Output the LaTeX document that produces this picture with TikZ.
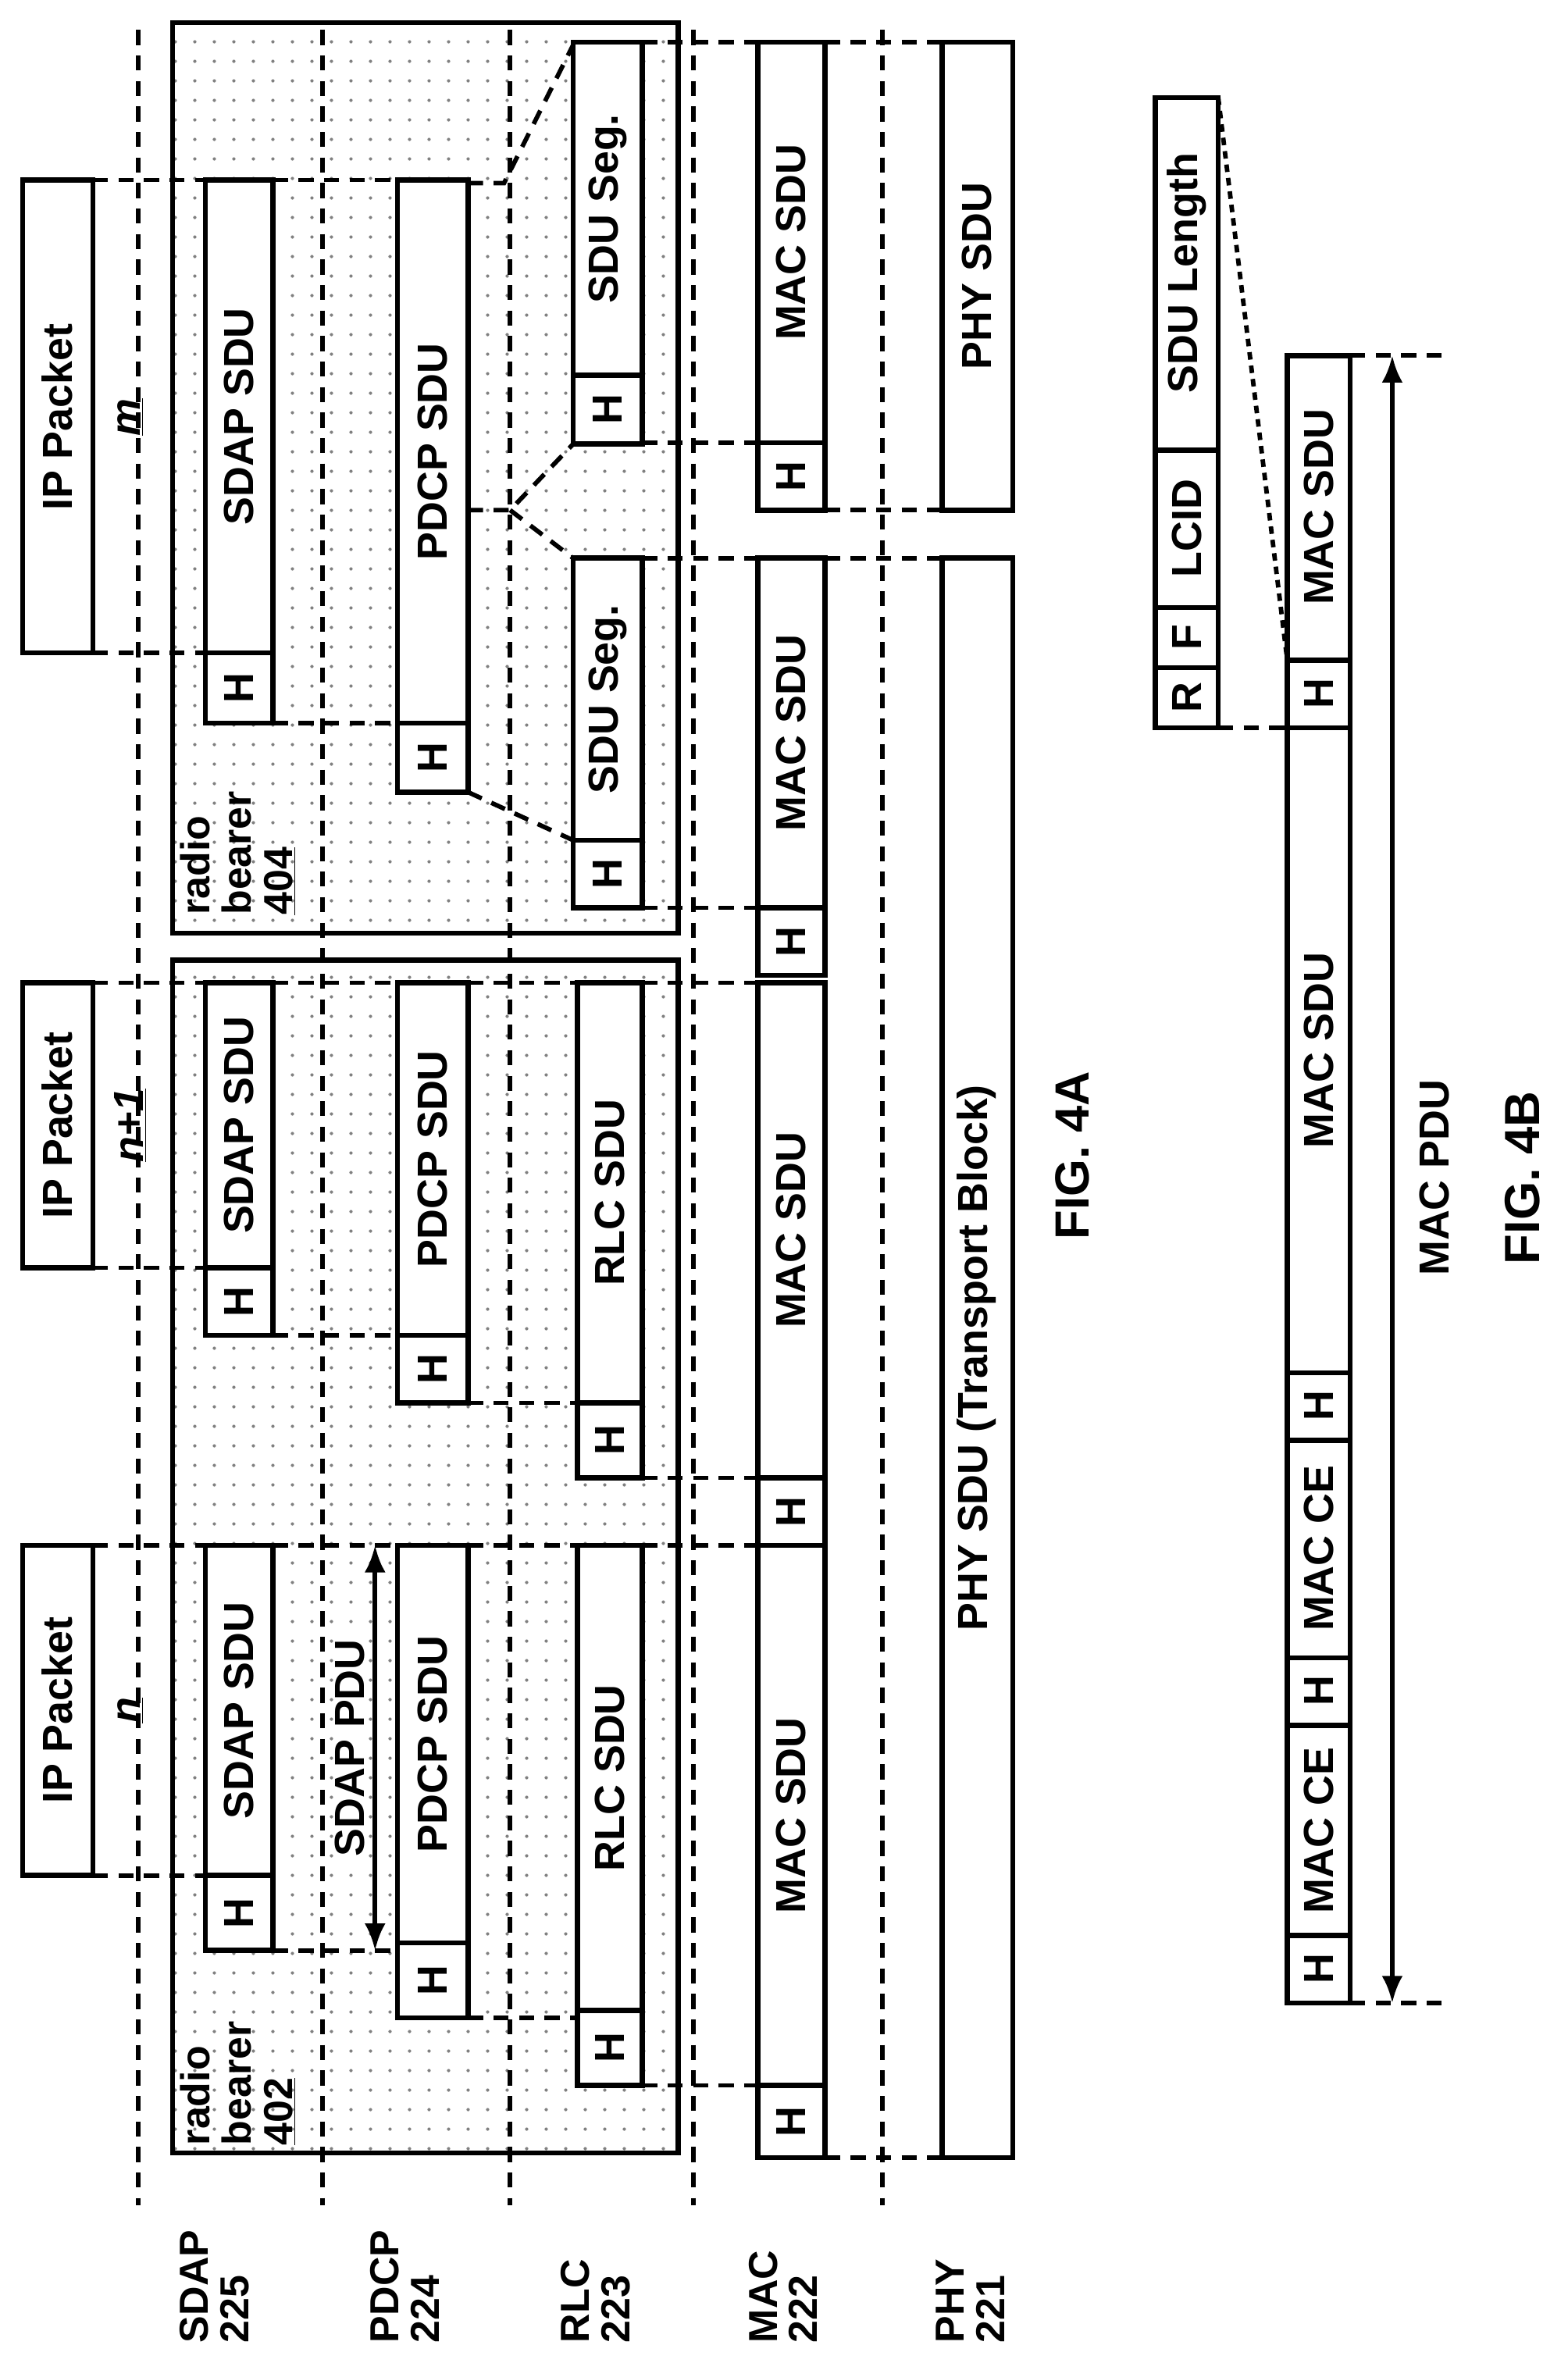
\documentclass[tikz,border=0pt]{standalone}
\usepackage{fontspec}
\setmainfont{Liberation Sans}
\usetikzlibrary{patterns.meta,arrows.meta}

% one box with its header part
\newcommand{\sdubox}[6]{%
  \draw[box,fill=white] (#1,#3) rectangle (#2,#5);
  \draw[box] (#1,#4) -- (#2,#4);
  \node[lbl] at ({(#1+#2)/2},{(#3+#4)/2}) {#6};
  \node[lbl] at ({(#1+#2)/2},{(#4+#5)/2}) {H};}

\begin{document}
\begin{tikzpicture}[x=1pt, y=-1pt,
    box/.style={line width=3.4pt},
    guide/.style={line width=3pt, dash pattern=on 10pt off 7pt},
    lbl/.style={rotate=90, font=\fontsize{28}{32}\selectfont\bfseries},
    lay/.style={rotate=90, align=left, font=\fontsize{27}{27}\selectfont\bfseries},
    dotted area/.style={pattern={Dots[distance=13pt, radius=1.1pt]}, pattern color=gray}]
    \useasboundingbox (0,0) rectangle (1045,1575);

    % radio bearers
    \draw[box, dotted area] (115,640) rectangle (452,1435);
    \draw[box, dotted area] (115,15) rectangle (452,622);

    % layer borders
    \foreach \lx in {92,215,340,462,588}
        \draw[guide] (\lx,20) -- (\lx,1470);

    % layer names
    \node[lay, anchor=west] (sdap) at (143,1565) {SDAP\\225};
    \node[lay, anchor=west] (pdcp) at (270,1565) {PDCP\\224};
    \node[lay, anchor=west] (rlc)  at (397,1565) {RLC\\223};
    \node[lay, anchor=west] (mac)  at (522,1565) {MAC\\222};
    \node[lay, anchor=west] (phy)  at (647,1565) {PHY\\221};

    % IP packets
    \draw[box,fill=white] (15,1030) rectangle (62,1250);
    \node[lbl] (ipn) at (38,1140) {IP Packet};
    \node[lbl] at (87,1140) {\underline{\itshape n}};
    \draw[box,fill=white] (15,655) rectangle (62,845);
    \node[lbl] (ipn1) at (38,750) {IP Packet};
    \node[lbl] at (87,750) {\underline{\itshape n+1}};
    \draw[box,fill=white] (15,120) rectangle (62,435);
    \node[lbl] (ipm) at (38,278) {IP Packet};
    \node[lbl] at (87,278) {\underline{\itshape m}};

    % guide lines between layers
    \foreach \xa/\xb/\yy in {62/137/1250, 62/137/1030, 182/265/1030, 312/385/1030,
        428/505/1030, 182/265/1300, 312/385/1345, 428/505/1390, 550/628/1438,
        62/137/845, 62/137/655, 182/265/655, 312/385/655, 428/505/655,
        182/265/890, 312/385/935, 428/505/985,
        62/137/435, 62/137/120, 182/265/120, 182/265/482,
        428/505/605, 428/505/372, 428/505/295, 428/505/28,
        550/628/372, 550/628/340, 550/628/28}
        \draw[guide] (\xa,\yy) -- (\xb,\yy);
    % segmentation of packet m
    \draw[guide] (312,122) -- (336,122) -- (382,30);
    \draw[guide] (312,340) -- (340,340) -- (382,296);
    \draw[guide] (340,340) -- (382,372);
    \draw[guide] (312,528) -- (382,560);

    % SDAP
    \sdubox{137}{182}{1030}{1250}{1300}{SDAP SDU}
    \sdubox{137}{182}{655}{845}{890}{SDAP SDU}
    \sdubox{137}{182}{120}{435}{482}{SDAP SDU}
    % PDCP
    \sdubox{265}{312}{1030}{1295}{1345}{PDCP SDU}
    \sdubox{265}{312}{655}{890}{935}{PDCP SDU}
    \sdubox{265}{312}{120}{482}{528}{PDCP SDU}
    % RLC
    \sdubox{385}{428}{1030}{1340}{1390}{RLC SDU}
    \sdubox{385}{428}{655}{935}{985}{RLC SDU}
    \sdubox{382}{428}{372}{560}{605}{SDU Seg.}
    \sdubox{382}{428}{28}{250}{296}{SDU Seg.}
    % MAC
    \sdubox{505}{550}{1030}{1390}{1438}{MAC SDU}
    \sdubox{505}{550}{655}{985}{1030}{MAC SDU}
    \sdubox{505}{550}{372}{605}{650}{MAC SDU}
    \sdubox{505}{550}{28}{295}{340}{MAC SDU}
    % PHY
    \draw[box,fill=white] (628,372) rectangle (675,1438);
    \node[lbl] (tb) at (651,905) {PHY SDU (Transport Block)};
    \draw[box,fill=white] (628,28) rectangle (675,340);
    \node[lbl] (physdu) at (651,184) {PHY SDU};

    % radio bearer labels
    \node[lay, anchor=north west, inner sep=0pt, font=\fontsize{27}{27.5}\selectfont\bfseries] (rb402) at (120,1430) {radio\\bearer\\\underline{402}};
    \node[lay, anchor=north west, inner sep=0pt, font=\fontsize{27}{27.5}\selectfont\bfseries] (rb404) at (120,610) {radio\\bearer\\\underline{404}};

    % SDAP PDU
    \draw[line width=3pt, {Latex[length=18pt,width=14pt]}-{Latex[length=18pt,width=14pt]}] (250,1030) -- (250,1300);
    \node[lbl, fill=white, inner sep=1pt] (sdappdu) at (233,1165) {SDAP PDU};

    \node[lbl, font=\fontsize{32}{36}\selectfont\bfseries] (fa) at (715,770) {FIG. 4A};

    % MAC PDU of FIG. 4B
    \draw[box,fill=white] (858,237) rectangle (900,1335);
    \foreach \yy in {1290,1150,1105,960,915,485,440}
        \draw[box] (858,\yy) -- (900,\yy);
    \node[lbl] at (879,1312) {H};
    \node[lbl] at (879,1220) {MAC CE};
    \node[lbl] at (879,1127) {H};
    \node[lbl] at (879,1032) {MAC CE};
    \node[lbl] at (879,937) {H};
    \node[lbl] at (879,700) {MAC SDU};
    \node[lbl] at (879,462) {H};
    \node[lbl] at (879,338) {MAC SDU};

    % sub-header
    \draw[box,fill=white] (770,65) rectangle (812,485);
    \foreach \yy in {445,405,300}
        \draw[box] (770,\yy) -- (812,\yy);
    \node[lbl] at (791,465) {R};
    \node[lbl] at (791,425) {F};
    \node[lbl] at (791,352) {LCID};
    \node[lbl] at (791,182) {SDU Length};
    \draw[guide] (812,485) -- (858,485);
    \draw[line width=3pt, dash pattern=on 5pt off 4pt] (812,65) -- (858,440);

    \draw[guide] (900,237) -- (962,237);
    \draw[guide] (900,1335) -- (962,1335);
    \draw[line width=3pt, {Latex[length=18pt,width=14pt]}-{Latex[length=18pt,width=14pt]}] (928,237) -- (928,1335);
    \node[lbl] (macpdu) at (956,785) {MAC PDU};
    \node[lbl, font=\fontsize{33}{36}\selectfont\bfseries] (fb) at (1015,785) {FIG. 4B};
\end{tikzpicture}
\end{document}
